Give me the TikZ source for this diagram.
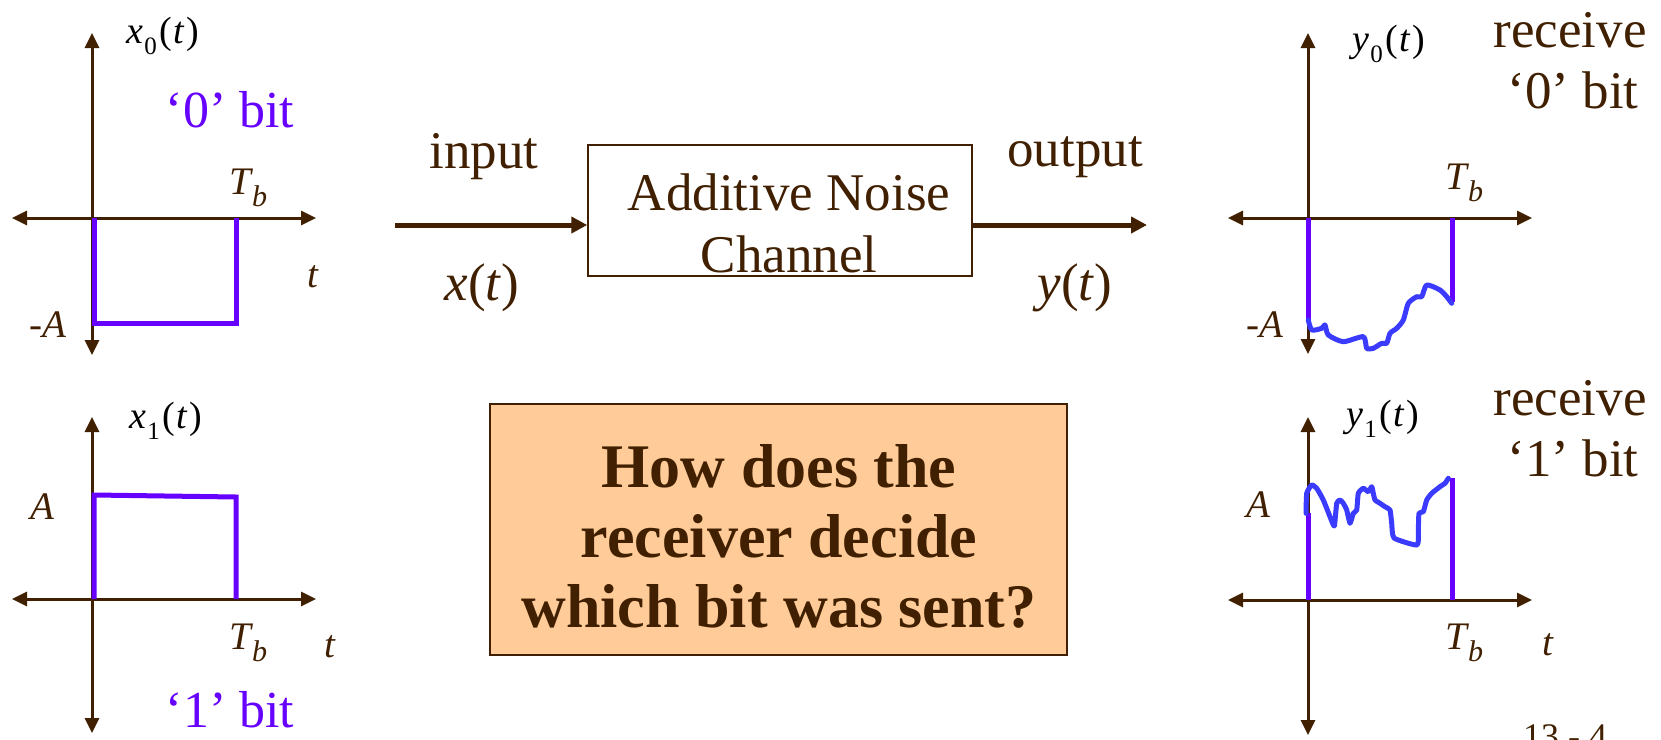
\documentclass[tikz,border=0pt]{standalone}
\usepackage{fontspec}
\setmainfont{Liberation Serif}
\usetikzlibrary{arrows.meta}
\definecolor{brn}{RGB}{64,32,0}
\definecolor{purp}{RGB}{102,0,255}
\definecolor{blu}{RGB}{59,59,255}
\definecolor{org}{RGB}{255,204,153}
\newcommand{\sigl}[2]{\textit{#1}\kern1pt\raisebox{-0.28em}{\fontsize{25}{25}\selectfont #2}\kern3pt(\kern1pt\textit{t}\kern2pt)}
\newcommand{\Tbl}{\textit{T}\kern-1pt\raisebox{-0.3em}{\fontsize{30}{30}\selectfont\textit{b}}}
\begin{document}
\begin{tikzpicture}[x=1pt,y=-1pt,
  axis/.style={draw=brn, line width=3pt, {Triangle[length=15pt,width=14pt]}-{Triangle[length=15pt,width=14pt]}},
  pulse/.style={draw=purp, line width=5pt},
  noise/.style={draw=blu, line width=5pt, line cap=round, line join=round},
  big/.style={font=\fontsize{53}{62}\selectfont, text=brn, inner sep=0pt},
  bitlbl/.style={font=\fontsize{52}{62}\selectfont, text=purp, inner sep=0pt},
  sig/.style={font=\fontsize{38}{44}\selectfont, text=black, inner sep=0pt},
  ax/.style={font=\fontsize{39}{44}\selectfont, text=brn, inner sep=0pt},
  flow/.style={draw=brn, line width=5pt, -{Triangle[length=16pt,width=16pt]}},
  chan/.style={draw=brn, line width=1.5pt, fill=white, minimum width=384pt, minimum height=131pt, inner sep=0pt},
  qbox/.style={draw=brn, line width=2pt, fill=org, minimum width=577pt, minimum height=251pt, inner sep=0pt},
  qtext/.style={font=\fontsize{62}{70}\selectfont\bfseries, text=brn, align=center, inner sep=0pt}]
\useasboundingbox (0,0) rectangle (1661,739);
\clip (0,0) rectangle (1661,739);
\fill[white] (0,0) rectangle (1661,739);

% ---------- left top: x0(t)
\coordinate (a0t) at (92,33); \coordinate (a0b) at (92,355);
\coordinate (a0l) at (12,218); \coordinate (a0r) at (316,218);
\draw[axis] (a0b) -- (a0t);
\draw[axis] (a0l) -- (a0r);
\draw[pulse] (94,218) -- (94,323) -- (236,323) -- (236,218);
\node[sig] (x0) at (163,36) {\sigl{x}{0}};
\node[bitlbl] (bit0) at (230,110) {‘0’ bit};
\node[ax] (tb0) at (248,188) {\Tbl};
\node[ax] (t0) at (313,277) {\textit{t}};
\node[ax] (mA0) at (48,325) {-\textit{A}};

% ---------- left bottom: x1(t)
\coordinate (a1t) at (92,417); \coordinate (a1b) at (92,733);
\coordinate (a1l) at (12,599); \coordinate (a1r) at (316,599);
\draw[axis] (a1b) -- (a1t);
\draw[axis] (a1l) -- (a1r);
\draw[pulse] (94,599) -- (94,495) -- (236,497) -- (236,599);
\node[sig] (x1) at (166,421) {\sigl{x}{1}};
\node[ax] (A1) at (42,507) {\textit{A}};
\node[ax] (tb1) at (248,643) {\Tbl};
\node[ax] (t1) at (330,647) {\textit{t}};
\node[bitlbl] (bit1) at (230,710) {‘1’ bit};

% ---------- right top: y0(t)
\coordinate (b0t) at (1308,33); \coordinate (b0b) at (1308,354);
\coordinate (b0l) at (1228,218); \coordinate (b0r) at (1532,218);
\draw[axis] (b0b) -- (b0t);
\draw[axis] (b0l) -- (b0r);
\draw[pulse] (1308,218) -- (1308,322);
\draw[pulse] (1452,218) -- (1452,302);
\draw[noise] plot[smooth, tension=0.4] coordinates {(1308.3,320) (1311.7,330) (1321.7,328.3) (1325,325) (1328.3,335) (1343.3,341.7) (1363.3,336.7) (1366.7,348.3) (1373.3,348.3) (1381.7,343.3) (1386.7,343.3) (1390,333.3) (1396.7,328.3) (1403.3,320) (1408.3,303.3) (1416.7,296.7) (1421.7,296.7) (1426.7,285) (1440,290) (1446.7,296.7) (1451.7,303.3)};
\node[sig] (y0) at (1389,44) {\sigl{y}{0}};
\node[big] (rc0) at (1570,30) {receive};
\node[big] (rb0) at (1573,90) {‘0’ bit};
\node[ax] (tb2) at (1464,183) {\Tbl};
\node[ax] (mA2) at (1265,325) {-\textit{A}};

% ---------- right bottom: y1(t)
\coordinate (b1t) at (1308,417); \coordinate (b1b) at (1308,735);
\coordinate (b1l) at (1228,600); \coordinate (b1r) at (1532,600);
\draw[axis] (b1b) -- (b1t);
\draw[axis] (b1l) -- (b1r);
\draw[pulse] (1308,600) -- (1308,513);
\draw[pulse] (1452,600) -- (1452,478);
\draw[noise] plot[smooth, tension=0.3] coordinates {(1306,513.3) (1306.7,493.3) (1311.7,485) (1316.7,488.3) (1323.3,500) (1330,516.7) (1334.3,526) (1336.7,503.3) (1340,500) (1343.3,503.3) (1346.7,510) (1350,523.3) (1353.3,513.3) (1356.7,510) (1358.3,493.3) (1363.3,488.3) (1368.3,491.7) (1371.7,486.7) (1373.3,493.3) (1375,500) (1380,503.3) (1385,506.7) (1390,510) (1391.7,523.3) (1394,538) (1417,545) (1418.3,530) (1419,513.3) (1423.3,511.7) (1426.7,500) (1431.7,493.3) (1440,486.7) (1445,483.3) (1448.3,478.3)};
\node[sig] (y1) at (1383,419) {\sigl{y}{1}};
\node[ax] (A3) at (1258,505) {\textit{A}};
\node[ax] (tb3) at (1464,643) {\Tbl};
\node[ax] (t3) at (1548,645) {\textit{t}};
\node[big] (rc1) at (1570,398) {receive};
\node[big] (rb1) at (1573,458) {‘1’ bit};

% ---------- channel
\node[chan] (box) at (780,210.5) {};
\node[big, align=center] (boxtxt) at (789,223) {Additive Noise\\Channel};
\coordinate (inS) at (395,225);
\coordinate (outE) at (1147,225);
\draw[flow] (inS) -- (inS -| box.west);
\draw[flow] (box.east |- outE) -- (outE);
\node[big] (inlbl) at (484,157) {input};
\node[big] (xt) at (482,288) {\textit{x}(\textit{t})};
\node[big] (outlbl) at (1075,157) {output};
\node[big] (yt) at (1075,288) {\textit{y}(\textit{t})};

% ---------- question box
\node[qbox] (qb) at (778.5,529.5) {};
\node[qtext] (qt) at (779,536) {How does the\\receiver decide\\which bit was sent?};

% ---------- page number (cut off at the bottom edge, as in the reference)
\node[font=\fontsize{36}{40}\selectfont, text=brn, inner sep=0pt, anchor=base] (pg) at (1565,748) {13 - 4};
\end{tikzpicture}
\end{document}
